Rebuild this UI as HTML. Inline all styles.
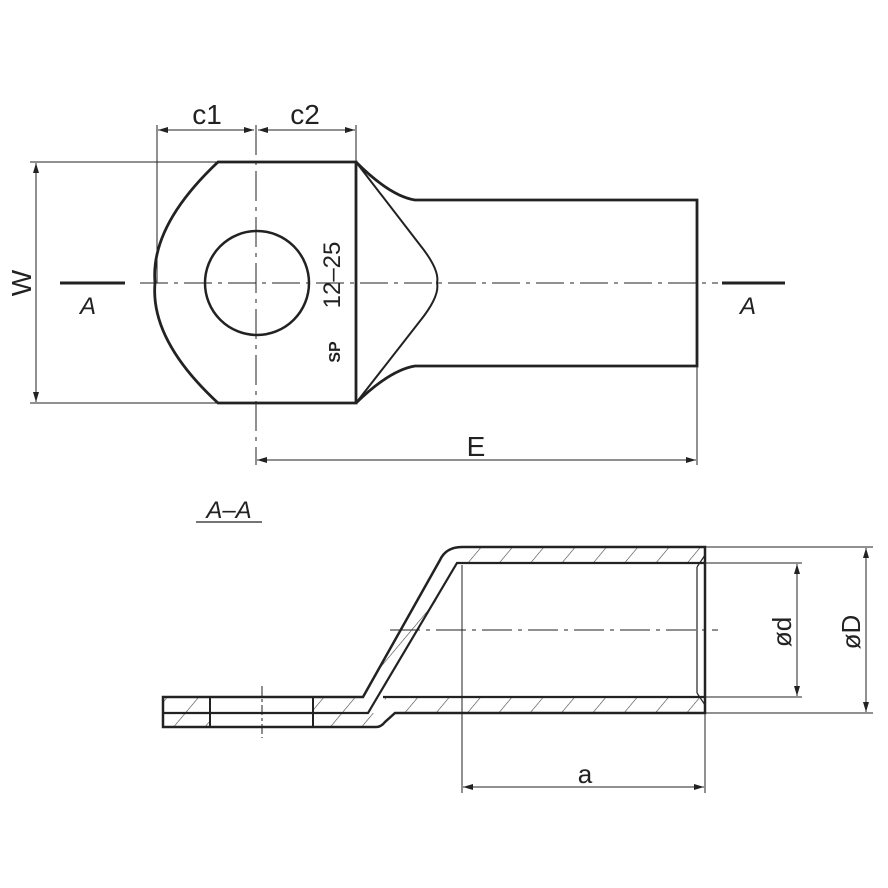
<!DOCTYPE html>
<html><head><style>body{margin:0;background:#fff}svg{display:block}text{font-family:"Liberation Sans",sans-serif;fill:#222}</style></head>
<body>
<svg width="888" height="888" viewBox="0 0 888 888" xmlns="http://www.w3.org/2000/svg">
<defs>
<marker id="ar" viewBox="0 0 10 6" refX="10" refY="3" markerWidth="10" markerHeight="6" orient="auto-start-reverse" markerUnits="userSpaceOnUse"><path d="M0,0 L10,3 L0,6z" fill="#222"/></marker>
<pattern id="h" width="24" height="24" patternUnits="userSpaceOnUse" patternTransform="rotate(40)"><line x1="0" y1="0" x2="0" y2="24" stroke="#444" stroke-width="1.2"/></pattern>
</defs>
<g stroke="#222" fill="none">
<path d="M218,162 L356,162 L356,403 L218,403 Q150,340 155,283 Q150,226 218,162Z" stroke-width="2.8"/>
<circle cx="257" cy="283" r="52" stroke-width="2.5"/>
<path d="M356,162 Q390,196 415,200 L697,200 L697,366 L415,366 Q390,370 356,403" stroke-width="2.8"/>
<path d="M356,162 L420,245 Q440,270 437,283 Q440,296 420,321 L356,403" stroke-width="2"/>
<line x1="140" y1="283" x2="718" y2="283" stroke-width="1" stroke-dasharray="28,6,4,6"/>
<line x1="256" y1="125" x2="256" y2="465" stroke-width="1" stroke-dasharray="30,6,4,6"/>
<g stroke-width="1">
<line x1="157" y1="125" x2="157" y2="283"/>
<line x1="356" y1="125" x2="356" y2="162"/>
<line x1="158" y1="130" x2="254" y2="130" marker-start="url(#ar)" marker-end="url(#ar)"/>
<line x1="258" y1="130" x2="355" y2="130" marker-start="url(#ar)" marker-end="url(#ar)"/>
<line x1="30" y1="162" x2="218" y2="162"/>
<line x1="30" y1="403" x2="218" y2="403"/>
<line x1="36" y1="163" x2="36" y2="402" marker-start="url(#ar)" marker-end="url(#ar)"/>
<line x1="697" y1="366" x2="697" y2="465"/>
<line x1="257" y1="460" x2="696" y2="460" marker-start="url(#ar)" marker-end="url(#ar)"/>
</g>
<line x1="60" y1="283" x2="125" y2="283" stroke-width="3"/>
<line x1="722" y1="283" x2="785" y2="283" stroke-width="3"/>
<line x1="196" y1="522" x2="262" y2="522" stroke-width="1.2"/>
<g stroke="none" fill="url(#h)">
<path d="M465,547 L705,547 L705,563 L458,563Z"/>
<path d="M383,697 L705,697 L705,713 L395,713Z"/>
<path d="M447,550 L460,547 L458,563 L380,697 L363,697Z"/>
<path d="M163,697 L210,697 L210,727 L163,727Z"/>
<path d="M313,697 L363,697 L380,697 L368,713 L383,713 L378,727 L313,727Z"/>
</g>
<path d="M163,697 L363,697 L440,560 Q446,547 462,547 L705,547 L705,713 L395,713 L385,722 Q381,727 376,727 L163,727Z" stroke-width="2.5"/>
<path d="M163,713 L368,713 L457,563 L705,563" stroke-width="2.2"/>
<path d="M383,697 L705,697" stroke-width="2.2"/>
<line x1="210" y1="697" x2="210" y2="727" stroke-width="2"/>
<line x1="313" y1="697" x2="313" y2="727" stroke-width="2"/>
<path d="M697,567 L697,693 M697,567 L705,555 M697,693 L705,705" stroke-width="1.2"/>
<line x1="262" y1="686" x2="262" y2="738" stroke-width="1" stroke-dasharray="10,3,3,3"/>
<line x1="390" y1="630" x2="718" y2="630" stroke-width="1" stroke-dasharray="30,6,4,6"/>
<g stroke-width="1">
<line x1="462" y1="565" x2="462" y2="793"/>
<line x1="705" y1="713" x2="705" y2="793"/>
<line x1="463" y1="787" x2="704" y2="787" marker-start="url(#ar)" marker-end="url(#ar)"/>
<line x1="705" y1="547" x2="873" y2="547"/>
<line x1="705" y1="713" x2="873" y2="713"/>
<line x1="705" y1="563" x2="802" y2="563"/>
<line x1="705" y1="697" x2="802" y2="697"/>
<line x1="797" y1="564" x2="797" y2="696" marker-start="url(#ar)" marker-end="url(#ar)"/>
<line x1="866" y1="548" x2="866" y2="712" marker-start="url(#ar)" marker-end="url(#ar)"/>
</g>
</g>
<text x="207" y="124" font-size="28" text-anchor="middle">c1</text>
<text x="305" y="124" font-size="28" text-anchor="middle">c2</text>
<text transform="translate(31,283) rotate(-90)" font-size="28" text-anchor="middle">W</text>
<text x="88" y="314" font-size="24" font-style="italic" text-anchor="middle">A</text>
<text x="748" y="314" font-size="24" font-style="italic" text-anchor="middle">A</text>
<text x="476" y="456" font-size="28" text-anchor="middle">E</text>
<text x="229" y="518" font-size="24" font-style="italic" text-anchor="middle">A–A</text>
<text transform="translate(340,275) rotate(-90)" font-size="24" text-anchor="middle">12–25</text>
<text transform="translate(340,352) rotate(-90)" font-size="16" font-weight="bold" text-anchor="middle">SP</text>
<text x="585" y="783" font-size="26" text-anchor="middle">a</text>
<text transform="translate(791,632) rotate(-90)" font-size="26" text-anchor="middle">ød</text>
<text transform="translate(860,632) rotate(-90)" font-size="26" text-anchor="middle">øD</text>
</svg>
</body></html>
